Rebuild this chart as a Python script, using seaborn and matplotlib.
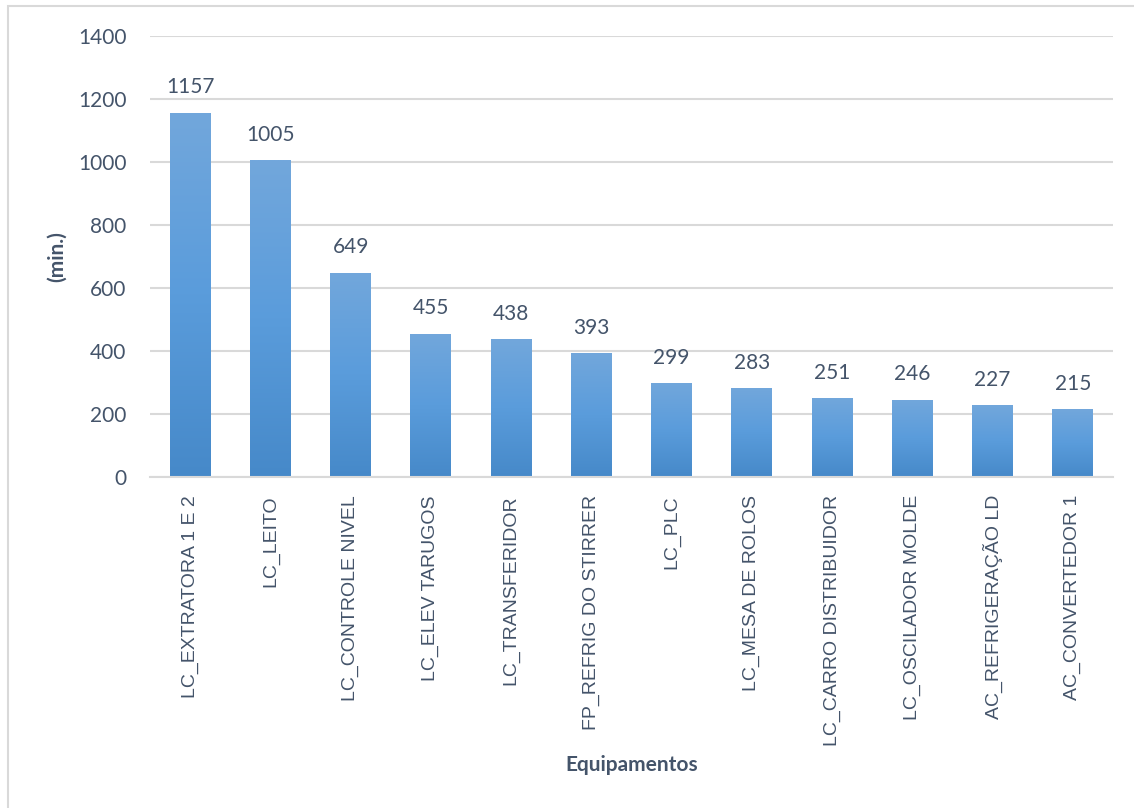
import numpy as np
import pandas as pd
import matplotlib
matplotlib.use("Agg")
import matplotlib.pyplot as plt
from matplotlib.colors import LinearSegmentedColormap
from matplotlib.patches import Rectangle
import seaborn as sns

equipamentos = [
    "LC_EXTRATORA 1 E 2", "LC_LEITO", "LC_CONTROLE NIVEL", "LC_ELEV TARUGOS",
    "LC_TRANSFERIDOR", "FP_REFRIG DO STIRRER", "LC_PLC", "LC_MESA DE ROLOS",
    "LC_CARRO DISTRIBUIDOR", "LC_OSCILADOR MOLDE", "AC_REFRIGERAÇÃO LD",
    "AC_CONVERTEDOR 1",
]
minutos = [1157, 1005, 649, 455, 438, 393, 299, 283, 251, 246, 227, 215]
y_ticks = [0, 200, 400, 600, 800, 1000, 1200, 1400]

df = pd.DataFrame({"Equipamentos": equipamentos, "min": minutos})

sns.set_theme(style="white")
plt.rcParams["font.family"] = ["Lato", "DejaVu Sans"]

TEXT = "#44546A"
GRID = "#D9D9D9"

fig = plt.figure(figsize=(11.34, 8.08), dpi=100)
ax = fig.add_axes([150 / 1134, 1 - 477 / 808, (1113 - 150) / 1134, (477 - 36) / 808])

sns.barplot(data=df, x="Equipamentos", y="min", color="#5B9BD5",
            width=0.51, ax=ax, saturation=1)

# vertical gradient fill on each bar
cmap = LinearSegmentedColormap.from_list(
    "bar_grad", ["#4689C9", "#5A9CDB", "#72A7DC"])
grad = np.linspace(0, 1, 256).reshape(-1, 1)
for bar in ax.patches:
    x0, y0 = bar.get_x(), bar.get_y()
    w, h = bar.get_width(), bar.get_height()
    bar.set_facecolor("none")
    bar.set_edgecolor("none")
    im = ax.imshow(grad, cmap=cmap, origin="lower", aspect="auto",
                   extent=[x0, x0 + w, y0, y0 + h], zorder=2)
    im.set_clip_path(bar)

ax.set_xlim(-0.5, len(equipamentos) - 0.5)
ax.set_ylim(0, 1400)
ax.set_yticks(y_ticks)
ax.set_yticklabels([str(v) for v in y_ticks])

ax.bar_label(ax.containers[0], labels=[str(v) for v in minutos], padding=11,
             fontsize=15, color=TEXT, fontfamily="Lato")

ax.yaxis.grid(True, color=GRID, linewidth=1.5)
ax.set_axisbelow(True)
for side in ["top", "right", "left"]:
    ax.spines[side].set_visible(False)
ax.spines["bottom"].set_color(GRID)
ax.spines["bottom"].set_linewidth(1.5)

ax.tick_params(axis="y", length=0, pad=17, labelsize=15, labelcolor=TEXT)
ax.tick_params(axis="x", length=0, pad=13, labelcolor=TEXT)
for lab in ax.get_xticklabels():
    lab.set_rotation(90)
    lab.set_fontfamily("Liberation Sans")
    lab.set_fontsize(14)

ax.set_xlabel("Equipamentos", fontsize=15, fontweight="bold", color=TEXT)
ax.set_ylabel("(min.)", fontsize=15, fontweight="bold", color=TEXT)
ax.xaxis.label.set_verticalalignment("center")
ax.yaxis.label.set_verticalalignment("center")
ax.yaxis.label.set_horizontalalignment("center")
ax.xaxis.set_label_coords(0.5, -(765 - 477) / (477 - 36))
ax.yaxis.set_label_coords((57 - 150) / (1113 - 150), 0.5)

# chart area outline
fig.patches.append(Rectangle((8 / 1134, -0.05), 1.1, 1 - 6 / 808 + 0.05,
                             transform=fig.transFigure, fill=False,
                             edgecolor=GRID, linewidth=1.5, zorder=0))

fig.savefig("out.png", dpi=100)
